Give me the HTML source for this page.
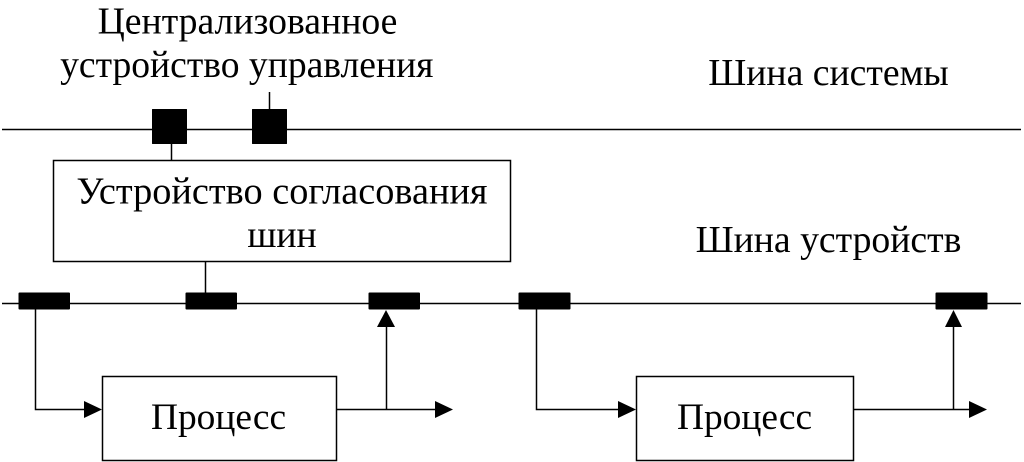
<!DOCTYPE html>
<html>
<head>
<meta charset="utf-8">
<style>
html,body{margin:0;padding:0;background:#fff;width:1024px;height:462px;overflow:hidden}
svg{display:block}
text{font-family:"Liberation Serif","Noto Serif CJK SC",serif;font-size:37.7px;fill:#000;text-anchor:middle}
</style>
</head>
<body>
<svg width="1024" height="462" viewBox="0 0 1024 462" xmlns="http://www.w3.org/2000/svg">
<g stroke="#000" stroke-width="1.5" fill="none">
<line x1="2" y1="129.500" x2="1021" y2="129.500"/>
<line x1="2" y1="303.500" x2="1021" y2="303.500"/>
<line x1="269.500" y1="92" x2="269.500" y2="110"/>
<line x1="171.500" y1="143" x2="171.500" y2="160"/>
<line x1="205.500" y1="262" x2="205.500" y2="293"/>
<rect x="53.500" y="160.500" width="457" height="101"/>
<rect x="102.500" y="376.500" width="234" height="84"/>
<rect x="636.500" y="376.500" width="217" height="84"/>
<polyline points="35.500,309 35.500,409.500 86,409.500"/>
<line x1="336" y1="409.500" x2="436" y2="409.500"/>
<line x1="386.500" y1="409" x2="386.500" y2="326"/>
<polyline points="536.500,309 536.500,409.500 620,409.500"/>
<line x1="854" y1="409.500" x2="970" y2="409.500"/>
<line x1="953.500" y1="409" x2="953.500" y2="326"/>
</g>
<g fill="#000">
<rect x="152" y="109" width="35" height="35" rx="0.5"/>
<rect x="252" y="109" width="35" height="35" rx="0.5"/>
<rect x="18.500" y="292.500" width="51.500" height="17" rx="1"/>
<rect x="185.500" y="292.500" width="51.500" height="17" rx="1"/>
<rect x="368.500" y="292.500" width="51.500" height="17" rx="1"/>
<rect x="518.500" y="292.500" width="52" height="17" rx="1"/>
<rect x="935.500" y="292.500" width="52" height="17" rx="1"/>
<polygon points="84,401 102,409.500 84,418"/>
<polygon points="435,401 453,409.500 435,418"/>
<polygon points="618,401 636,409.500 618,418"/>
<polygon points="969,401 987,409.500 969,418"/>
<polygon points="377,327 386,310 395,327"/>
<polygon points="945,327 953.500,310 962,327"/>
</g>
<text x="247.500" y="33.500">Централизованное</text>
<text x="246.800" y="77" style="font-size:37.6px">устройство управления</text>
<text x="828.500" y="85">Шина системы</text>
<text x="282" y="203.500" style="font-size:38.3px">Устройство согласования</text>
<text x="282" y="247">шин</text>
<text x="828.500" y="252">Шина устройств</text>
<text x="218.500" y="429" style="font-size:37.4px">Процесс</text>
<text x="744.500" y="429" style="font-size:37.4px">Процесс</text>
</svg>
</body>
</html>
